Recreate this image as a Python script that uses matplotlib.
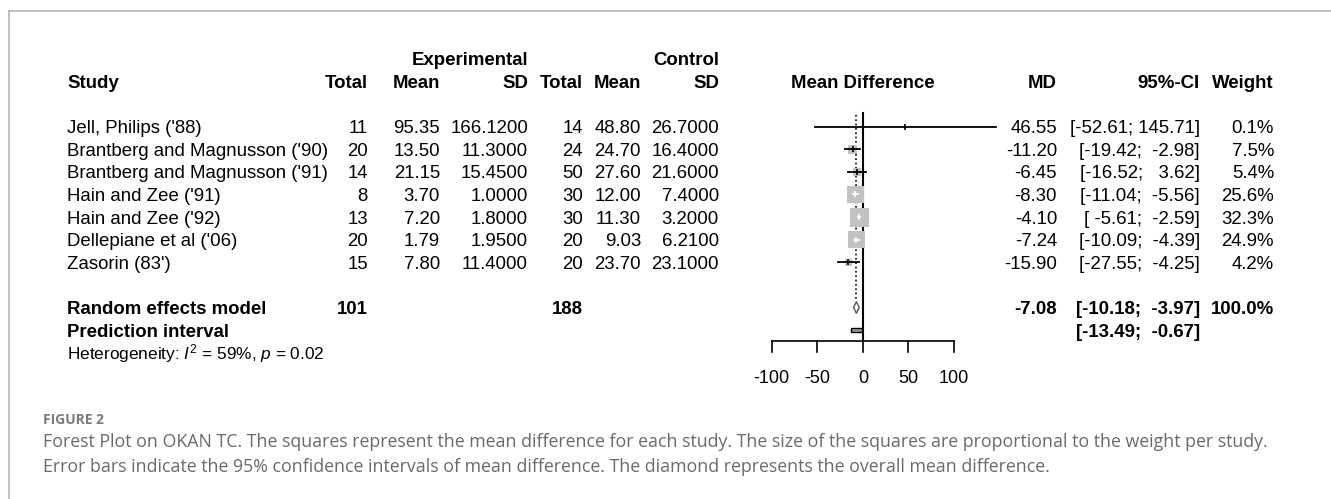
import numpy as np
import matplotlib
matplotlib.use("Agg")
import matplotlib.pyplot as plt
import matplotlib.transforms as mtransforms
from matplotlib.lines import Line2D
from matplotlib.patches import Polygon, Rectangle

plt.rcParams['font.family'] = ['Liberation Sans', 'DejaVu Sans']
plt.rcParams['mathtext.fontset'] = 'custom'
plt.rcParams['mathtext.rm'] = 'Liberation Sans'
plt.rcParams['mathtext.it'] = 'Liberation Sans:italic'

# ---- data ----
studies = ["Jell, Philips ('88)", "Brantberg and Magnusson ('90)",
           "Brantberg and Magnusson ('91)", "Hain and Zee ('91)",
           "Hain and Zee ('92)", "Dellepiane et al ('06)", "Zasorin (83')"]
exp_n = [11, 20, 14, 8, 13, 20, 15]
exp_mean = [95.35, 13.50, 21.15, 3.70, 7.20, 1.79, 7.80]
exp_sd = [166.12, 11.30, 15.45, 1.00, 1.80, 1.95, 11.40]
ctl_n = [14, 24, 50, 30, 30, 20, 20]
ctl_mean = [48.80, 24.70, 27.60, 12.00, 11.30, 9.03, 23.70]
ctl_sd = [26.70, 16.40, 21.60, 7.40, 3.20, 6.21, 23.10]
md = [46.55, -11.20, -6.45, -8.30, -4.10, -7.24, -15.90]
ci_lo = [-52.61, -19.42, -16.52, -11.04, -5.61, -10.09, -27.55]
ci_hi = [145.71, -2.98, 3.62, -5.56, -2.59, -4.39, -4.25]
weight = [0.1, 7.5, 5.4, 25.6, 32.3, 24.9, 4.2]

re_md, re_lo, re_hi = -7.08, -10.18, -3.97
pi_lo, pi_hi = -13.49, -0.67
exp_total, ctl_total = 101, 188
xticks = [-100, -50, 0, 50, 100]
het_text = r"Heterogeneity: $I^2$ = 59%, $p$ = 0.02"

# ---- layout (pixels) ----
W, H = 1331, 499
x_m100, x_p100 = 771.7, 954.0      # pixel of -100 and +100
row0, drow = 126.7, 22.6            # pixel y of first study row, row spacing
ppu = (x_p100 - x_m100) / 200.0
fs = 13.4
off = 0.29                          # baseline offset in rows

fig = plt.figure(figsize=(W / 100, H / 100), dpi=100)
ax = fig.add_axes([0, 0, 1, 1])
ax.set_xlim(-100 - x_m100 / ppu, -100 + (W - x_m100) / ppu)
ax.set_ylim((H - row0) / drow, -row0 / drow)
ax.axis('off')

tr = mtransforms.blended_transform_factory(fig.transFigure, ax.transData)


def txt(xpx, row, s, ha='right', bold=False, size=fs, color='black'):
    ax.text(xpx / W, row + off, s, transform=tr, ha=ha, va='baseline',
            fontsize=size, fontweight='bold' if bold else 'normal', color=color)


# headers
txt(528, -3, "Experimental", bold=True)
txt(719, -3, "Control", bold=True)
txt(67, -2, "Study", ha='left', bold=True)
for xp, lab in [(368, "Total"), (440, "Mean"), (528, "SD"), (583, "Total"),
                (641, "Mean"), (719, "SD"), (1057, "MD"), (1200, "95%-CI"),
                (1274, "Weight")]:
    txt(xp, -2, lab, bold=True)
ax.text(0, -2 + off, "Mean Difference", ha='center', va='baseline',
        fontsize=fs, fontweight='bold')


def ci_str(lo, hi):
    return "[" + f"{lo:.2f}".rjust(6) + "; " + f"{hi:.2f}".rjust(6) + "]"


for i, name in enumerate(studies):
    txt(67, i, name, ha='left')
    txt(368, i, str(exp_n[i]))
    txt(440, i, f"{exp_mean[i]:.2f}")
    txt(528, i, f"{exp_sd[i]:.4f}")
    txt(583, i, str(ctl_n[i]))
    txt(641, i, f"{ctl_mean[i]:.2f}")
    txt(719, i, f"{ctl_sd[i]:.4f}")
    txt(1057, i, f"{md[i]:.2f}")
    txt(1200, i, ci_str(ci_lo[i], ci_hi[i]))
    txt(1274, i, f"{weight[i]:.1f}%")

r_re = len(studies) + 1
txt(67, r_re, "Random effects model", ha='left', bold=True)
txt(368, r_re, str(exp_total), bold=True)
txt(583, r_re, str(ctl_total), bold=True)
txt(1057, r_re, f"{re_md:.2f}", bold=True)
txt(1200, r_re, ci_str(re_lo, re_hi), bold=True)
txt(1274, r_re, "100.0%", bold=True)
txt(67, r_re + 1, "Prediction interval", ha='left', bold=True)
txt(1200, r_re + 1, ci_str(pi_lo, pi_hi), bold=True)
txt(67, r_re + 2, het_text, ha='left', size=12.4)

# ---- forest panel ----
rows = np.arange(len(studies))
ax.plot([0, 0], [-0.61, 9.47], color='black', lw=1.5, zorder=1)
ax.plot([re_md, re_md], [-0.52, r_re - 0.3], color='black', lw=1.2,
        ls=(0, (1, 1.6)), zorder=1)

side_px = 3.34 * np.sqrt(weight)
ax.scatter(md, rows, marker='s', s=(side_px * 0.72) ** 2, color='#c2c2c2',
           edgecolors='none', zorder=2)
for i in rows:
    inside = (ci_hi[i] - ci_lo[i]) * ppu < side_px[i]
    c = 'white' if inside else 'black'
    ax.plot([ci_lo[i], ci_hi[i]], [i, i], color=c, lw=1.3, zorder=3)
    ax.scatter([md[i]], [i], marker='|', s=(6 * 0.72) ** 2, color=c,
               linewidths=1.2, zorder=3)

dh = 0.26
ax.add_patch(Polygon([[re_lo, r_re], [re_md, r_re - dh], [re_hi, r_re],
                      [re_md, r_re + dh]], closed=True, facecolor='white',
                     edgecolor='#555555', lw=1.0, zorder=4))
ax.add_patch(Rectangle((pi_lo, r_re + 1 - 0.09), pi_hi - pi_lo, 0.18,
                       facecolor='#9a9a9a', edgecolor='black', lw=1.0, zorder=4))

# x axis
ax.plot([xticks[0], xticks[-1]], [9.47, 9.47], color='black', lw=1.2)
for t in xticks:
    ax.plot([t, t], [9.47, 9.97], color='black', lw=1.2)
    ax.text(t, 11.03 + off, f"{t}", ha='center', va='baseline', fontsize=13)

# ---- frame and caption ----
fig.add_artist(Line2D([9 / W, 1], [1 - 10.5 / H, 1 - 10.5 / H],
                      color='#b5b5b5', lw=1.2))
fig.add_artist(Line2D([9 / W, 9 / W], [0, 1 - 10.5 / H], color='#b5b5b5', lw=1.2))

cap_font = ['Open Sans', 'DejaVu Sans']
fig.text(43 / W, 1 - 424.3 / H, "FIGURE 2", family=cap_font, fontsize=10,
         fontweight='bold', color='#7a7a7a', va='baseline')
fig.text(43 / W, 1 - 446.7 / H,
         "Forest Plot on OKAN TC. The squares represent the mean difference for each study. "
         "The size of the squares are proportional to the weight per study.",
         family=cap_font, fontsize=12.8, color='#6a6a6a', va='baseline')
fig.text(43 / W, 1 - 471.7 / H,
         "Error bars indicate the 95% confidence intervals of mean difference. "
         "The diamond represents the overall mean difference.",
         family=cap_font, fontsize=12.8, color='#6a6a6a', va='baseline')

fig.savefig("out.png", dpi=100)
